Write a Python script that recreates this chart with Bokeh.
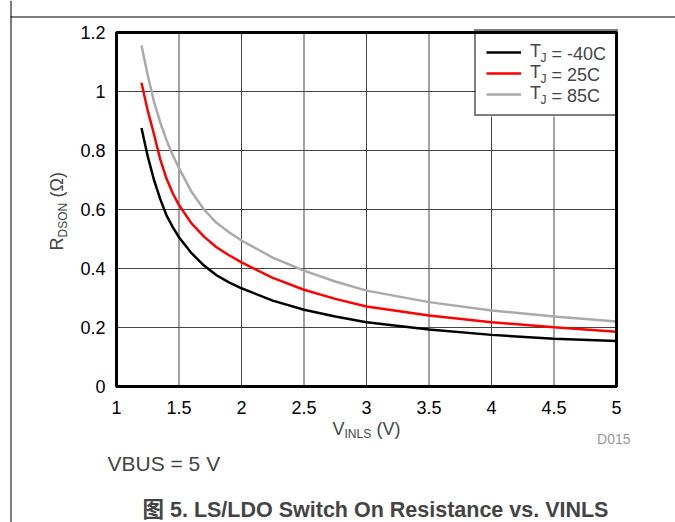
import math
from bokeh.plotting import figure
from bokeh.models import (FixedTicker, Label, BoxAnnotation, Legend, LegendItem, Range1d)
from bokeh.embed import file_html
from bokeh.resources import INLINE

# ---------------- data ----------------
v_inls = [1.2, 1.25, 1.3, 1.35, 1.4, 1.45, 1.5, 1.6, 1.7, 1.8, 1.9, 2.0, 2.25, 2.5, 2.75, 3.0, 3.5, 4.0, 4.5, 5.0]
r_m40 = [0.876, 0.780, 0.700, 0.635, 0.580, 0.540, 0.506, 0.452, 0.410, 0.377, 0.353, 0.333, 0.291, 0.260, 0.237, 0.218, 0.193, 0.175, 0.162, 0.154]
r_25 = [1.030, 0.935, 0.855, 0.770, 0.705, 0.655, 0.615, 0.553, 0.508, 0.472, 0.445, 0.421, 0.368, 0.328, 0.297, 0.271, 0.241, 0.218, 0.201, 0.186]
r_85 = [1.156, 1.055, 0.965, 0.895, 0.835, 0.785, 0.740, 0.660, 0.600, 0.555, 0.523, 0.495, 0.437, 0.393, 0.356, 0.325, 0.286, 0.258, 0.237, 0.220]

series_names = ["-40C", "25C", "85C"]
series_colors = ["black", "#ff0000", "#aaaaaa"]

x_ticks = [1, 1.5, 2, 2.5, 3, 3.5, 4, 4.5, 5]
x_tick_labels = ["1", "1.5", "2", "2.5", "3", "3.5", "4", "4.5", "5"]
y_ticks = [0, 0.2, 0.4, 0.6, 0.8, 1.0, 1.2]
y_tick_labels = ["0", "0.2", "0.4", "0.6", "0.8", "1", "1.2"]

FONT = "Liberation Sans"
W, H = 675, 522
# plot box in page pixels: x 116..616, y 32..386
PX_L, PX_R, PX_T, PX_B = 116, 616, 32, 386
x0, x1 = x_ticks[0], x_ticks[-1]
y0, y1 = y_ticks[0], y_ticks[-1]
kx = (x1 - x0) / (PX_R - PX_L)
ky = (y1 - y0) / (PX_B - PX_T)

p = figure(width=W, height=H,
           x_range=Range1d(x0 - PX_L * kx, x1 + (W - PX_R) * kx),
           y_range=Range1d(y0 - (H - PX_B) * ky, y1 + PX_T * ky),
           output_backend="svg", toolbar_location=None,
           min_border=0)
p.background_fill_color = "white"
p.border_fill_color = "white"
p.outline_line_color = None
p.xgrid.visible = False
p.ygrid.visible = False

# axes drawn at the plot box edges
p.xaxis.fixed_location = y0
p.yaxis.fixed_location = x0
p.xaxis.ticker = FixedTicker(ticks=x_ticks)
p.xaxis.major_label_overrides = {t: s for t, s in zip(x_ticks, x_tick_labels)}
p.yaxis.ticker = FixedTicker(ticks=y_ticks)
p.yaxis.major_label_overrides = {t: s for t, s in zip(y_ticks, y_tick_labels)}
for ax in (p.xaxis, p.yaxis):
    ax.axis_line_color = None
    ax.major_tick_line_color = None
    ax.minor_tick_line_color = None
    ax.major_label_text_font = FONT
    ax.major_label_text_font_size = "18px"
    ax.major_label_text_color = "black"
p.xaxis.major_label_standoff = 8
p.yaxis.major_label_standoff = 5

# grid lines
p.segment(x0=x_ticks, y0=[y0] * len(x_ticks), x1=x_ticks, y1=[y1] * len(x_ticks),
          line_color="#444444", line_width=1)
p.segment(x0=[x0] * len(y_ticks), y0=y_ticks, x1=[x1] * len(y_ticks), y1=y_ticks,
          line_color="#444444", line_width=1)

renderers = []
for ys, c in zip([r_m40, r_25, r_85], series_colors):
    renderers.append(p.line(v_inls, ys, line_color=c, line_width=2.5))

# legend background (white), drawn under the legend's own texts
LG_L, LG_T, LG_H = 475, 32, 84
p.add_layout(BoxAnnotation(left=LG_L, right=PX_R, bottom=H - LG_T - LG_H, top=H - LG_T,
                           left_units="screen", right_units="screen",
                           bottom_units="screen", top_units="screen",
                           fill_color="white", fill_alpha=1, line_color=None))

# plot box outline
p.add_layout(BoxAnnotation(left=x0, right=x1, bottom=y0, top=y1, fill_color=None,
                           line_color="black", line_width=3, line_alpha=1))

legend = Legend(items=[LegendItem(label="T", renderers=[r]) for r in renderers],
                location=(LG_L - 1, H - LG_T - LG_H), margin=0, padding=10,
                glyph_width=35, glyph_height=20, label_height=20, label_width=76,
                label_standoff=9, spacing=-1,
                border_line_color="black", border_line_width=2,
                background_fill_alpha=0,
                label_text_font=FONT, label_text_font_size="18px")
p.add_layout(legend)


def lab(text, x, y, size=18, **kw):
    # x, y: page pixel position (y from the top)
    font = kw.pop("font", FONT)
    p.add_layout(Label(text=text, x=x, y=H - y, x_units="screen", y_units="screen",
                       text_font=font, text_font_size=f"{size}px", level="overlay", **kw))


def base(size):
    # offset of the drawn baseline below the anchor for "alphabetic"
    return 0.32 * size


# legend subscripts and rest of the entries
for i, name in enumerate(series_names):
    row = 53 + 21 * i
    lab("J", 540, row + 4, size=12, text_baseline="middle")
    lab("= " + name, 551, row, text_baseline="middle")

# y-axis title  R_DSON (Ω)
lab("R", 62 - base(18), 250, angle=math.pi / 2, text_baseline="alphabetic")
lab("DSON", 66 - base(12), 237, size=12, angle=math.pi / 2, text_baseline="alphabetic")
lab("(Ω)", 62 - base(18), 197, angle=math.pi / 2, text_baseline="alphabetic")

# x-axis title  V_INLS (V)
lab("V", 332, 434 - base(18), text_baseline="alphabetic")
lab("INLS", 344, 437.5 - base(12), size=12, text_baseline="alphabetic")
lab("(V)", 376, 434 - base(18), text_baseline="alphabetic")

lab("D015", 630, 443 - base(14), size=14, text_align="right", text_color="#999999",
    text_baseline="alphabetic")
lab("VBUS = 5 V", 107, 470 - base(21), size=21, text_baseline="alphabetic")
lab("图 5. LS/LDO Switch On Resistance vs. VINLS", 142, 516 - base(21.5), size=21.5,
    text_font_style="bold", font="Liberation Sans, Noto Sans CJK SC",
    text_baseline="alphabetic")

# page frame lines
p.add_layout(BoxAnnotation(left=10, right=11, bottom=0, top=H,
                           left_units="screen", right_units="screen",
                           bottom_units="screen", top_units="screen",
                           fill_color="black", fill_alpha=1, line_color=None))
p.add_layout(BoxAnnotation(left=10, right=W, bottom=H - 17, top=H - 16,
                           left_units="screen", right_units="screen",
                           bottom_units="screen", top_units="screen",
                           fill_color="black", fill_alpha=1, line_color=None))

open("out.html", "w").write(file_html(p, INLINE))
